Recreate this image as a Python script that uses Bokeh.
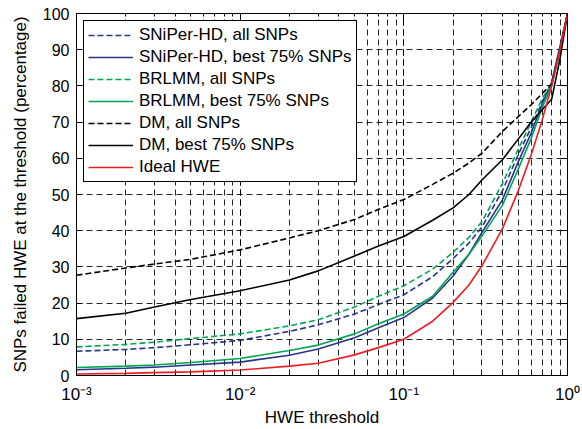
from bokeh.plotting import figure
from bokeh.models import LogAxis, LinearAxis, CustomJSTickFormatter, FixedTicker, LogTicker
from bokeh.embed import file_html
from bokeh.resources import INLINE

# HWE thresholds (x) and percentage of SNPs failing HWE at that threshold (y)
thresholds = [0.001, 0.002, 0.003, 0.005, 0.01, 0.02, 0.03, 0.05, 0.07, 0.1,
              0.15, 0.2, 0.25, 0.3, 0.4, 0.5, 0.6, 0.7, 0.8, 0.9, 1.0]

sniper_all = [6.7, 7.2, 7.7, 8.5, 9.7, 12.2, 14.0, 17.0, 19.6, 22.3,
              27.3, 32.3, 36.6, 41.0, 51.0, 61.0, 68.5, 75.5, 80.5, 90.5, 100]
sniper_best = [1.6, 2.0, 2.3, 2.9, 3.7, 5.6, 7.3, 10.4, 13.2, 16.0,
               21.4, 27.5, 33.5, 39.5, 48.5, 59.0, 67.0, 75.0, 81.0, 91.0, 100]
brlmm_all = [7.9, 8.6, 9.2, 10.2, 11.5, 13.7, 15.4, 18.9, 21.9, 24.8,
             29.4, 34.0, 38.2, 42.5, 53.0, 62.5, 70.0, 76.5, 80.5, 90.0, 100]
brlmm_best = [2.2, 2.6, 2.9, 3.6, 4.7, 6.9, 8.4, 11.5, 14.3, 17.0,
              21.9, 28.5, 33.5, 38.5, 47.0, 57.0, 65.5, 74.0, 80.0, 90.0, 100]
dm_all = [27.7, 29.7, 30.8, 32.1, 34.7, 38.0, 40.0, 43.1, 45.9, 48.6,
          52.8, 55.9, 58.7, 61.4, 67.4, 71.5, 74.8, 77.9, 80.5, 90.0, 100]
dm_best = [15.7, 17.2, 18.9, 21.0, 23.4, 26.4, 28.9, 33.0, 35.8, 38.4,
           42.9, 46.3, 50.0, 54.0, 59.6, 65.3, 70.0, 73.4, 76.3, 87.5, 100]
ideal_hwe = [0.4, 0.6, 0.8, 1.0, 1.5, 2.6, 3.4, 5.7, 7.7, 10.0,
             15.0, 20.2, 25.0, 30.3, 40.5, 51.0, 61.0, 70.5, 80.0, 90.0, 100]

series_labels = ["SNiPer-HD, all SNPs", "SNiPer-HD, best 75% SNPs",
                 "BRLMM, all SNPs", "BRLMM, best 75% SNPs",
                 "DM, all SNPs", "DM, best 75% SNPs", "Ideal HWE"]
y_ticks = [0, 10, 20, 30, 40, 50, 60, 70, 80, 90, 100]

FONT = "Liberation Sans"

p = figure(width=582, height=429, x_axis_type="log", x_range=(1e-3, 1), y_range=(0, 100),
           output_backend="svg", toolbar_location=None,
           min_border_left=76, min_border_right=15, min_border_top=13, min_border_bottom=52)
p.background_fill_color = "white"
p.outline_line_color = "black"
p.outline_line_width = 1

grid_dash = "6 4"
p.xgrid.grid_line_color = "black"
p.xgrid.grid_line_dash = grid_dash
p.xgrid.minor_grid_line_color = "black"
p.xgrid.minor_grid_line_dash = grid_dash
p.ygrid.grid_line_color = "black"
p.ygrid.grid_line_dash = grid_dash
p.xgrid.grid_line_alpha = 0.85
p.xgrid.minor_grid_line_alpha = 0.85
p.ygrid.grid_line_alpha = 0.85

exp_code = """
const e = Math.round(Math.log10(tick));
const sup = {'-': '\\u207b', '0': '\\u2070', '1': '\\u00b9', '2': '\\u00b2', '3': '\\u00b3'};
return '10' + String(e).split('').map(c => sup[c]).join('');
"""

xa = p.xaxis[0]
xa.ticker = LogTicker(num_minor_ticks=10)
xa.formatter = CustomJSTickFormatter(code=exp_code)
xa.axis_label = "HWE threshold"
ya = p.yaxis[0]
ya.ticker = FixedTicker(ticks=y_ticks)
ya.axis_label = "SNPs failed HWE at the threshold (percentage)"

for ax in (xa, ya):
    ax.axis_line_color = "black"
    ax.major_tick_in = 6
    ax.major_tick_out = 0
    ax.minor_tick_in = 3
    ax.minor_tick_out = 0
    ax.major_tick_line_color = "black"
    ax.minor_tick_line_color = "black"
    ax.major_label_text_font = FONT
    ax.major_label_text_font_size = "16px"
    ax.major_label_text_color = "black"
    ax.axis_label_text_font = FONT
    ax.axis_label_text_font_size = "17px"
    ax.axis_label_text_font_style = "normal"
    ax.axis_label_text_color = "black"
xa.major_label_text_font_size = "17px"
xa.major_label_standoff = 9
xa.axis_label_standoff = 1
ya.major_label_standoff = 7
ya.axis_label_standoff = 10

top = LogAxis(ticker=LogTicker(num_minor_ticks=10), major_tick_in=6, major_tick_out=0,
              minor_tick_in=3, minor_tick_out=0, major_label_text_font_size="1px",
              major_label_text_alpha=0, major_label_standoff=0, axis_line_color="black")
p.add_layout(top, "above")
right = LinearAxis(ticker=FixedTicker(ticks=y_ticks), major_tick_in=6, major_tick_out=0,
                   minor_tick_in=0, minor_tick_out=0, major_label_text_font_size="1px",
                   major_label_text_alpha=0, major_label_standoff=0, axis_line_color="black")
p.add_layout(right, "right")

blue = "#28348f"
green = "#00a651"
red = "#ee1c25"
lw = 1.6
dash = "6 3"

p.line(thresholds, sniper_all, color=blue, line_width=lw, line_dash=dash, legend_label=series_labels[0])
p.line(thresholds, sniper_best, color=blue, line_width=lw, legend_label=series_labels[1])
p.line(thresholds, brlmm_all, color=green, line_width=lw, line_dash=dash, legend_label=series_labels[2])
p.line(thresholds, brlmm_best, color=green, line_width=lw, legend_label=series_labels[3])
p.line(thresholds, dm_all, color="black", line_width=lw, line_dash=dash, legend_label=series_labels[4])
p.line(thresholds, dm_best, color="black", line_width=lw, legend_label=series_labels[5])
p.line(thresholds, ideal_hwe, color=red, line_width=lw, legend_label=series_labels[6])

lg = p.legend[0]
lg.location = "top_left"
lg.margin = 7
lg.border_line_color = "black"
lg.border_line_width = 1
lg.border_line_alpha = 1
lg.background_fill_color = "white"
lg.background_fill_alpha = 1
lg.label_text_font = FONT
lg.label_text_font_size = "17px"
lg.label_text_color = "black"
lg.glyph_width = 45
lg.glyph_height = 18
lg.label_height = 18
lg.spacing = 2
lg.padding = 4
lg.label_standoff = 6

open("out.html", "w").write(file_html(p, INLINE))
